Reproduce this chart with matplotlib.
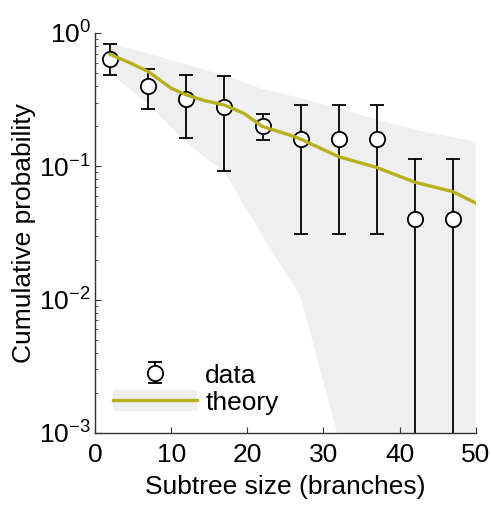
import numpy as np
import matplotlib
matplotlib.use("Agg")
import matplotlib.pyplot as plt
from matplotlib.lines import Line2D
from matplotlib.patches import Patch
from matplotlib.legend_handler import HandlerErrorbar

plt.rcParams["font.family"] = ["Liberation Sans", "DejaVu Sans"]
plt.rcParams["mathtext.fontset"] = "custom"
plt.rcParams["mathtext.rm"] = "Liberation Sans"
plt.rcParams["mathtext.it"] = "Liberation Sans:italic"
plt.rcParams["mathtext.bf"] = "Liberation Sans:bold"

# data points (fraction of 25 trees) with error limits
data_x = [2, 7, 12, 17, 22, 27, 32, 37, 42, 47]
data_y = [0.64, 0.40, 0.32, 0.28, 0.20, 0.16, 0.16, 0.16, 0.04, 0.04]
data_hi = [0.83, 0.54, 0.485, 0.475, 0.247, 0.29, 0.29, 0.29, 0.113, 0.113]
data_lo = [0.48, 0.27, 0.163, 0.092, 0.157, 0.031, 0.031, 0.031, 0.0, 0.0]

# theory curve
theory_x = [2, 4.5, 7, 10, 12, 14.5, 17, 19.5, 22, 25.5, 27, 32, 37, 42, 47, 50]
theory_y = [0.69, 0.60, 0.513, 0.385, 0.343, 0.31, 0.288, 0.25, 0.199, 0.172,
            0.16, 0.118, 0.098, 0.076, 0.0645, 0.053]

# theory confidence band
band_x = [2, 7, 12, 17, 22, 27, 32, 37, 42, 47, 50]
band_hi = [0.84, 0.70, 0.58, 0.48, 0.38, 0.325, 0.27, 0.225, 0.188, 0.165, 0.153]
band_lo = [0.50, 0.29, 0.15, 0.09, 0.03, 0.0105, 0.0009, 0.0, 0.0, 0.0, 0.0]

olive = "#b5b01c"
band_col = "#efefef"
fs = 19

fig = plt.figure(figsize=(4.91, 5.05), dpi=100)
ax = fig.add_axes([0.1935, 0.1426, 0.7755, 0.7921])

lo_plot = np.clip(np.array(band_lo), 1e-9, None)
ax.fill_between(band_x, lo_plot, band_hi, color=band_col, lw=0, zorder=1)

y = np.array(data_y)
err_lo = y - np.clip(np.array(data_lo), 1e-9, None)
err_hi = np.array(data_hi) - y
data_handle = ax.errorbar(data_x, y, yerr=[err_lo, err_hi], fmt="o", color="black",
                          mfc="white", mec="black", ms=11, mew=1.3, elinewidth=1.3,
                          capsize=5.3, capthick=1.3, zorder=3)

ax.plot(theory_x, theory_y, color=olive, lw=2.4, zorder=4)

ax.set_yscale("log")
ax.set_ylim(1e-3, 1)
ax.set_xlim(0, 50)
ax.set_xticks([0, 10, 20, 30, 40, 50])

for s in ["top", "right"]:
    ax.spines[s].set_visible(False)
for s in ["left", "bottom"]:
    ax.spines[s].set_color("#333333")
    ax.spines[s].set_linewidth(1.0)

ax.tick_params(which="both", direction="in", colors="#333333", labelcolor="black",
               labelsize=fs)
ax.tick_params(which="major", length=4)
ax.tick_params(which="minor", length=2.2)
ax.tick_params(axis="x", pad=7)
ax.tick_params(axis="y", pad=3)

ax.set_xlabel("Subtree size (branches)", fontsize=fs, labelpad=6)
ax.set_ylabel("Cumulative probability", fontsize=fs, labelpad=2)

theory_handle = (Patch(facecolor=band_col, edgecolor="none"),
                 Line2D([], [], color=olive, lw=2.4))
ax.legend([data_handle, theory_handle], ["data", "theory"], loc="lower left",
          bbox_to_anchor=(0.047, 0.045), frameon=False, fontsize=fs,
          handlelength=3.2, handleheight=0.85, handletextpad=0.3,
          borderpad=0, borderaxespad=0, labelspacing=0.1,
          handler_map={type(data_handle): HandlerErrorbar(yerr_size=0.4)})

fig.savefig("out.png", dpi=100)
